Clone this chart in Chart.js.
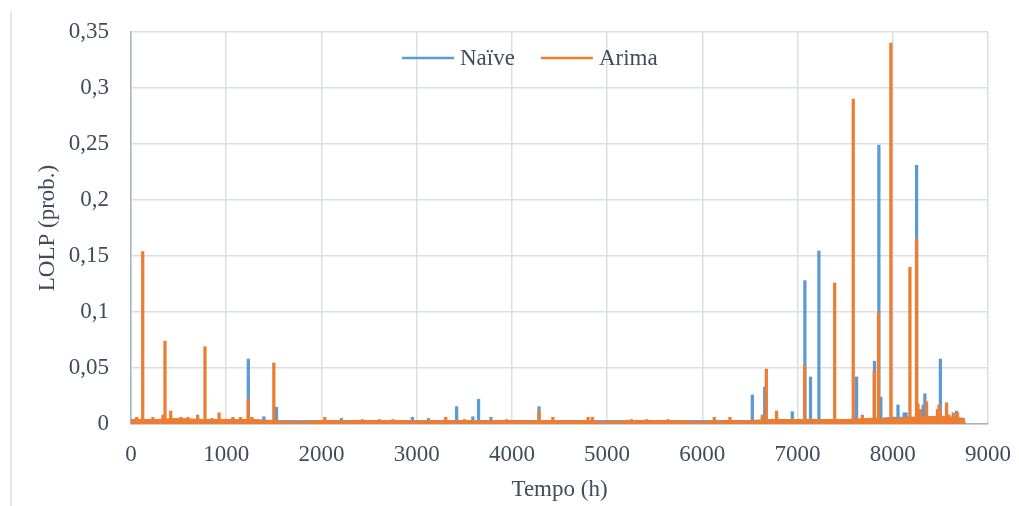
<!DOCTYPE html>
<html>
<head>
<meta charset="utf-8">
<script src="https://cdn.jsdelivr.net/npm/chart.js@4.4.1/dist/chart.umd.min.js"></script>
<style>
    html, body { margin: 0; padding: 0; background: #ffffff; }
</style>
</head>
<body>
<canvas id="lolp-chart" width="1019" height="506"></canvas>
<script>
// values (hour of year -> LOLP)
const seriesNames = ["Naïve", "Arima"];

const baseHours = [0, 250, 500, 750, 1000, 1250, 1500, 1750, 2000, 2250, 2500, 2750,
    3000, 3250, 3500, 3750, 4000, 4250, 4500, 4750, 5000, 5250, 5500, 5750,
    6000, 6250, 6500, 6750, 7000, 7250, 7500, 7750, 8000, 8250, 8500, 8750, 8760];
const arimaBase = [0.004, 0.004, 0.005, 0.004, 0.004, 0.004, 0.003, 0.002, 0.003, 0.003, 0.003, 0.003,
    0.003, 0.003, 0.003, 0.003, 0.003, 0.003, 0.003, 0.003, 0.002, 0.003, 0.003, 0.003,
    0.002, 0.003, 0.003, 0.004, 0.004, 0.004, 0.004, 0.005, 0.005, 0.006, 0.007, 0.005, 0.0];
const naiveBase = [0.003, 0.004, 0.004, 0.004, 0.004, 0.004, 0.003, 0.003, 0.003, 0.003, 0.003, 0.003,
    0.003, 0.003, 0.003, 0.003, 0.003, 0.003, 0.003, 0.003, 0.003, 0.003, 0.003, 0.003,
    0.003, 0.003, 0.003, 0.004, 0.004, 0.004, 0.004, 0.004, 0.006, 0.006, 0.006, 0.005, 0.0];

const naiveHours = [1232, 1395, 1528, 2210, 2955, 3125, 3420, 3590, 3650, 3780, 4285,
    6525, 6655, 6945, 7077, 7136, 7224, 7620, 7808, 7854, 7875, 8055, 8120, 8140,
    8250, 8320, 8337, 8500, 8670];
const naiveValues = [0.058, 0.0065, 0.015, 0.005, 0.006, 0.005, 0.0155, 0.0065, 0.022, 0.006, 0.0155,
    0.026, 0.033, 0.011, 0.128, 0.042, 0.1545, 0.042, 0.056, 0.249, 0.024, 0.017, 0.010, 0.010,
    0.231, 0.017, 0.027, 0.058, 0.0115];

const arimaHours = [60, 123, 230, 336, 357, 417, 525, 600, 700, 777, 850, 925, 1070, 1150,
    1232, 1270, 1500, 2035, 2430, 2610, 2750, 3305, 3500, 3945, 4285, 4430, 4800, 4845,
    5255, 5415, 5640, 6125, 6290, 6630, 6672, 6780, 7075, 7390, 7585, 7680, 7805, 7850,
    7980, 8180, 8250, 8265, 8290, 8355, 8470, 8485, 8500, 8565, 8590, 8635, 8680];
const arimaValues = [0.006, 0.154, 0.006, 0.008, 0.074, 0.0115, 0.006, 0.006, 0.008, 0.069, 0.005, 0.010, 0.006, 0.006,
    0.022, 0.006, 0.0545, 0.006, 0.004, 0.004, 0.004, 0.006, 0.004, 0.004, 0.0115, 0.006, 0.006, 0.006,
    0.004, 0.004, 0.004, 0.006, 0.006, 0.008, 0.049, 0.0115, 0.0525, 0.126, 0.290, 0.008, 0.047, 0.099,
    0.340, 0.140, 0.165, 0.018, 0.013, 0.020, 0.013, 0.017, 0.011, 0.019, 0.008, 0.010, 0.010];

const yTickLabels = ["0", "0,05", "0,1", "0,15", "0,2", "0,25", "0,3", "0,35"];
const xTickLabels = ["0", "1000", "2000", "3000", "4000", "5000", "6000", "7000", "8000", "9000"];

const blue = "#5b9bd5";
const orange = "#ed7d31";
const textColor = "#404b5c";
const gridColor = "#d9dee7";
const axisColor = "#aab3c6";
const fontFamily = "'Liberation Serif', 'Times New Roman', serif";

const toPoints = (xs, ys) => xs.map((x, i) => ({ x: x, y: ys[i] }));

// legend drawn inside the plot, the way the original has it
const plotLegend = {
    id: "plotLegend",
    afterDraw(chart) {
        const { ctx, chartArea } = chart;
        const colors = [blue, orange];
        ctx.save();
        ctx.font = "23px " + fontFamily;
        ctx.textBaseline = "middle";
        let x = chartArea.left + 271;
        const y = chartArea.top + 26;
        seriesNames.forEach((name, i) => {
            ctx.strokeStyle = colors[i];
            ctx.lineWidth = 2.5;
            ctx.beginPath();
            ctx.moveTo(x, y);
            ctx.lineTo(x + 52, y);
            ctx.stroke();
            ctx.fillStyle = textColor;
            ctx.fillText(name, x + 58, y + 1);
            x += 58 + ctx.measureText(name).width + 26;
        });
        ctx.restore();
    },
};

// thin frame line on the left edge
const frameLine = {
    id: "frameLine",
    beforeDraw(chart) {
        const ctx = chart.ctx;
        ctx.save();
        ctx.strokeStyle = "#dde1e8";
        ctx.lineWidth = 1.5;
        ctx.beginPath();
        ctx.moveTo(11, 11);
        ctx.lineTo(11, chart.height);
        ctx.stroke();
        ctx.restore();
    },
};

const ctx = document.getElementById("lolp-chart").getContext("2d");

const lolpChart = new Chart(ctx, {
    type: "line",
    data: {
        datasets: [
            {
                type: "bar",
                label: seriesNames[0] + " peaks",
                data: toPoints(naiveHours, naiveValues),
                backgroundColor: blue,
                barThickness: 2.6,
                stack: "peaks",
                order: 4,
            },
            {
                label: seriesNames[0],
                data: toPoints(baseHours, naiveBase),
                borderColor: blue,
                backgroundColor: blue,
                borderWidth: 1,
                pointRadius: 0,
                fill: "origin",
                order: 3,
            },
            {
                label: seriesNames[1],
                data: toPoints(baseHours, arimaBase),
                borderColor: orange,
                backgroundColor: orange,
                borderWidth: 1,
                pointRadius: 0,
                fill: "origin",
                order: 2,
            },
            {
                type: "bar",
                label: seriesNames[1] + " peaks",
                data: toPoints(arimaHours, arimaValues),
                backgroundColor: orange,
                barThickness: 2.6,
                stack: "peaks",
                order: 1,
            },
        ],
    },
    options: {
        responsive: false,
        animation: false,
        layout: { padding: { top: 32, right: 31, left: 0, bottom: 0 } },
        plugins: {
            legend: { display: false },
            tooltip: { enabled: false },
        },
        scales: {
            x: {
                type: "linear",
                min: 0,
                max: 9000,
                offset: false,
                ticks: {
                    stepSize: 1000,
                    padding: 17,
                    color: textColor,
                    font: { family: fontFamily, size: 23 },
                    callback: (value, index) => xTickLabels[index],
                },
                grid: { color: gridColor, lineWidth: 1.5, drawTicks: false, offset: false },
                border: { color: axisColor, width: 1.5 },
                title: {
                    display: true,
                    text: "Tempo (h)",
                    color: textColor,
                    font: { family: fontFamily, size: 23 },
                    padding: { top: 0, bottom: 2 },
                },
                afterFit: (scale) => {
                    scale.height = 82;
                    scale.paddingLeft = 0;
                    scale.paddingRight = 0;
                },
            },
            y: {
                min: 0,
                max: 0.35,
                stacked: false,
                ticks: {
                    stepSize: 0.05,
                    padding: 22,
                    color: textColor,
                    font: { family: fontFamily, size: 23 },
                    callback: (value, index) => yTickLabels[index],
                },
                grid: { color: gridColor, lineWidth: 1.5, drawTicks: false },
                border: { color: axisColor, width: 1.5 },
                title: {
                    display: true,
                    text: "LOLP (prob.)",
                    color: textColor,
                    font: { family: fontFamily, size: 23 },
                    padding: { top: 34, bottom: 0 },
                },
                afterFit: (scale) => {
                    scale.width = 131;
                    scale.paddingTop = 0;
                    scale.paddingBottom = 0;
                },
            },
        },
    },
    plugins: [frameLine, plotLegend],
});
</script>
</body>
</html>
